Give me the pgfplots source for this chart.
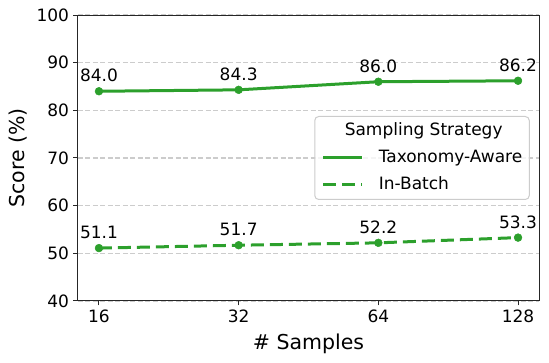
\documentclass[border=0pt]{standalone}
\usepackage{fontspec}
\setmainfont{DejaVu Sans}
\usepackage{pgfplots}
\pgfplotsset{compat=1.18}
\definecolor{mplgreen}{HTML}{2CA02C}
\definecolor{gridgray}{HTML}{CCCCCC}

\begin{document}
\begin{tikzpicture}[x=1pt,y=1pt]
\begin{axis}[
  scale only axis, width=461pt, height=286pt,
  /pgf/number format/assume math mode=true,
  xmin=-0.15, xmax=3.15, ymin=40, ymax=100,
  xtick={0,1,2,3}, xticklabels={16,32,64,128},
  ytick={40,50,...,100},
  tick pos=left, tick align=outside,
  major tick length=4.5pt,
  tick style={black!85, line width=1pt},
  axis line style={black!85, line width=1pt},
  ymajorgrids,
  major grid style={gridgray, line width=1.2pt, dash pattern=on 5pt off 2.5pt},
  tick label style={font=\fontsize{17}{20}\selectfont},
  xticklabel style={yshift=-1pt},
  yticklabel style={xshift=-1pt},
  xlabel={\# Samples}, ylabel={Score (\%)},
  every axis x label/.style={at={(axis description cs:0.5,-0.171)}, anchor=base,
    font=\fontsize{20.5}{24}\selectfont},
  every axis y label/.style={at={(axis description cs:-0.13,0.5)}, rotate=90, anchor=center,
    font=\fontsize{20.5}{24}\selectfont},
  nodes near coords={\pgfmathprintnumber[fixed,fixed zerofill,precision=1]{\pgfplotspointmeta}},
  point meta=y,
  every node near coord/.style={font=\fontsize{17}{20}\selectfont, text=black, anchor=south, inner sep=0pt, yshift=9pt},
  legend style={at={(rel axis cs:0.98,0.5)}, anchor=east,
    draw=gridgray, line width=1pt, rounded corners=4pt,
    fill=white, fill opacity=0.8, text opacity=1,
    font=\fontsize{17}{20}\selectfont,
    nodes={inner xsep=0pt, inner ysep=0pt, text height=13pt, text depth=4pt},
    row sep=10pt, column sep=15pt, inner xsep=7pt, inner ysep=6pt},
  legend cell align=left,
  legend image code/.code={\draw[#1] (0pt,0pt) -- (39pt,0pt);},
]
\addlegendimage{empty legend}
\addlegendentry{\hspace*{-34pt}Sampling Strategy}

\addplot[color=mplgreen, line width=3pt, mark=*, mark size=3.9pt,
  mark options={solid, line width=0.5pt}]
  coordinates {(0,84.0) (1,84.3) (2,86.0) (3,86.2)};
\addlegendentry{Taxonomy-Aware}

\addplot[color=mplgreen, line width=3pt, dash pattern=on 13pt off 6pt,
  mark=*, mark size=3.9pt, mark options={solid, line width=0.5pt}]
  coordinates {(0,51.1) (1,51.7) (2,52.2) (3,53.3)};
\addlegendentry{In-Batch}
\end{axis}
\pgfresetboundingbox
\useasboundingbox (-78pt,-62pt) rectangle (471pt,301pt);
\end{tikzpicture}
\end{document}
